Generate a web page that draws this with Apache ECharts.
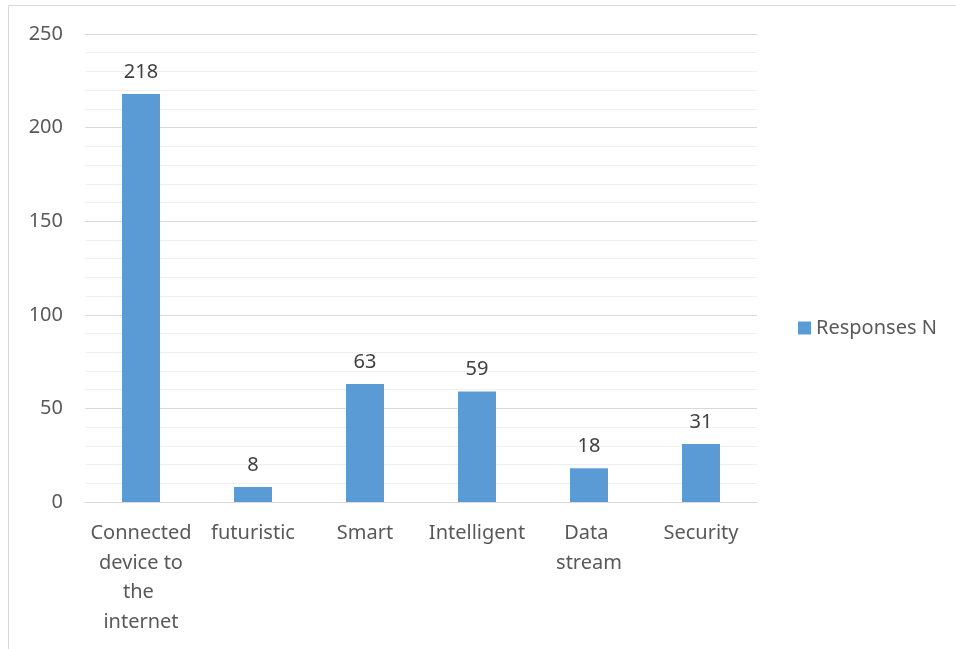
<!DOCTYPE html>
<html><head><meta charset="utf-8">
<script src="https://cdn.jsdelivr.net/npm/echarts@6/dist/echarts.min.js"></script>
<style>html,body{margin:0;padding:0;background:#fff}#c{width:956px;height:649px;position:relative}
#b{position:absolute;left:8px;top:5px;width:960px;height:660px;border:1px solid #d9d9d9;box-sizing:border-box;pointer-events:none}</style>
</head><body><div id="c"></div><div id="b"></div>
<script>
const categories = ['Connected device to the internet', 'futuristic', 'Smart', 'Intelligent', 'Data stream', 'Security'];
const responses = [218, 8, 63, 59, 18, 31];
const seriesName = 'Responses N';
const chart = echarts.init(document.getElementById('c'));
const font = 'Noto Sans';
chart.setOption({
  animation: false,
  textStyle: {fontFamily: font},
  grid: {left: 85, top: 34, width: 672, height: 468, containLabel: false},
  legend: {
    orient: 'vertical', left: 793, top: 313, itemWidth: 13, itemHeight: 13, itemGap: 8,
    icon: 'rect',
    textStyle: {color: '#595959', fontSize: 20, fontFamily: font},
    data: [seriesName]
  },
  xAxis: {
    type: 'category', data: categories,
    axisLine: {lineStyle: {color: '#d9d9d9', width: 1}},
    axisTick: {show: false},
    axisLabel: {color: '#595959', fontSize: 20, fontFamily: font, interval: 0, width: 104, overflow: 'break', lineHeight: 29.5, margin: 17}
  },
  yAxis: {
    type: 'value', min: 0, max: 250, interval: 50,
    axisLine: {show: false}, axisTick: {show: false},
    axisLabel: {color: '#595959', fontSize: 20, fontFamily: font, margin: 22},
    splitLine: {lineStyle: {color: '#d9d9d9', width: 1}},
    minorTick: {show: false, splitNumber: 5},
    minorSplitLine: {show: true, lineStyle: {color: '#f0f0f0', width: 1}}
  },
  series: [{
    name: seriesName, type: 'bar', data: responses, barWidth: 38,
    itemStyle: {color: '#5b9bd5'},
    label: {show: true, position: 'top', distance: 12, color: '#404040', fontSize: 20, fontFamily: font}
  }]
});
</script></body></html>
